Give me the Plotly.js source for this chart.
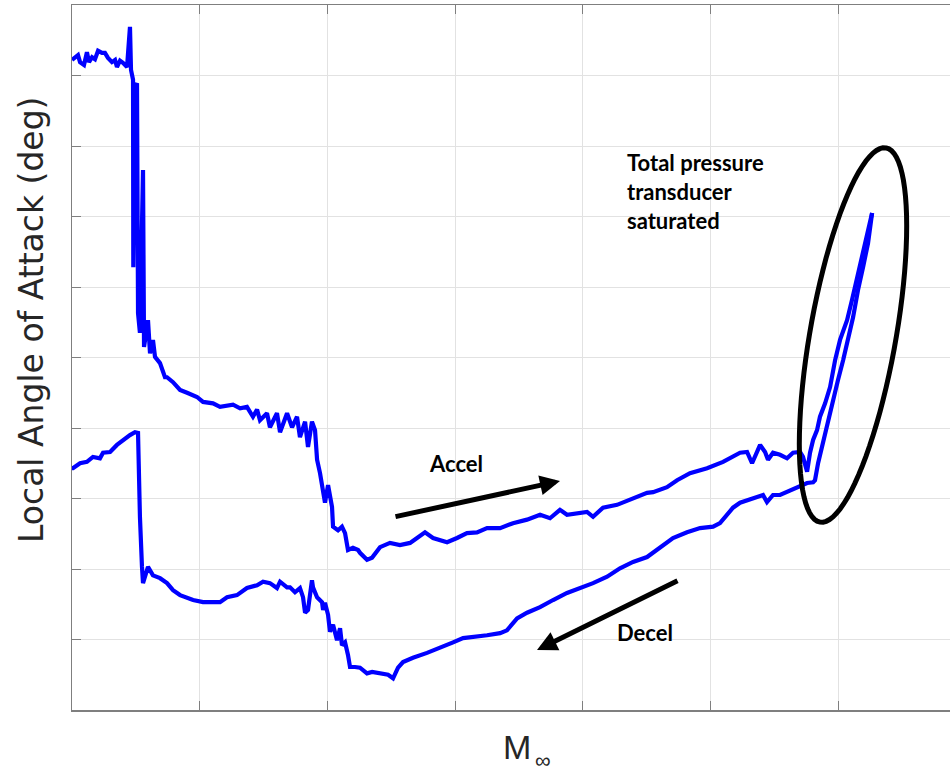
<!DOCTYPE html>
<html>
<head>
<meta charset="utf-8">
<script src="https://cdn.plot.ly/plotly-3.0.1.min.js"></script>
<style>html,body{margin:0;padding:0;background:#fff;}#chart{width:950px;height:776px;}</style>
</head>
<body>
<div id="chart"></div>
<script>
// Accel sweep (upper branch) – free-stream Mach (grid units) vs local AoA (grid units)
const accelMach = [0,0.047,0.063,0.094,0.117,0.133,0.157,0.18,0.204,0.235,
0.258,0.282,0.313,0.337,0.352,0.376,0.399,0.431,0.439,0.454,
0.462,0.478,0.48,0.493,0.509,0.517,0.532,0.556,0.564,0.595,
0.611,0.634,0.65,0.689,0.728,0.744,0.791,0.846,0.901,0.979,
1.026,1.104,1.159,1.261,1.316,1.37,1.417,1.449,1.472,1.527,
1.55,1.605,1.629,1.684,1.723,1.762,1.785,1.825,1.848,1.879,
1.903,1.919,1.942,1.966,1.981,2.005,2.036,2.044,2.083,2.114,
2.138,2.161,2.2,2.24,2.255,2.31,2.349,2.412,2.49,2.568,
2.647,2.702,2.764,2.827,2.937,3.015,3.093,3.171,3.25,3.352,
3.453,3.563,3.665,3.743,3.821,3.876,3.955,4.033,4.08,4.158,
4.268,4.37,4.503,4.55,4.659,4.738,4.839,4.973,5.098,5.231,
5.286,5.325,5.388,5.427,5.45,5.489,5.544,5.599,5.646,5.701,
5.724,5.756,5.779,5.803,5.834,5.857,5.897,5.936,5.975,6.014,
6.069,6.108,6.147,6.186,6.225,6.265];
const accelAoa = [9.22,9.29,9.19,9.15,9.33,9.19,9.26,9.23,9.35,9.32,
9.32,9.25,9.19,9.22,9.12,9.21,9.18,9.12,9.32,9.69,
9.08,8.94,6.28,8.84,8.89,5.63,5.35,7.66,5.15,5.53,
5.06,5.25,5.01,4.92,4.72,4.72,4.65,4.54,4.5,4.44,
4.37,4.35,4.3,4.33,4.28,4.3,4.16,4.26,4.11,4.21,
4.01,4.21,3.94,4.21,4.01,4.16,3.87,4.09,3.73,4.09,
3.97,3.55,3.36,3.12,2.94,3.19,2.88,2.6,2.55,2.6,
2.51,2.27,2.3,2.27,2.23,2.13,2.16,2.31,2.37,2.34,
2.37,2.44,2.52,2.44,2.38,2.44,2.51,2.52,2.58,2.58,
2.65,2.7,2.77,2.72,2.84,2.77,2.79,2.81,2.74,2.87,
2.91,2.98,3.08,3.09,3.16,3.26,3.36,3.43,3.52,3.65,
3.66,3.5,3.76,3.66,3.55,3.65,3.62,3.57,3.65,3.66,
3.59,3.38,3.65,3.83,3.97,4.16,4.35,4.58,4.96,5.25,
5.53,5.82,6.14,6.43,6.77,7.05];

// Decel sweep (lower branch)
const decelMach = [6.265,6.233,6.194,6.155,6.116,6.077,6.038,5.998,5.959,5.92,
5.881,5.842,5.818,5.803,5.756,5.677,5.599,5.544,5.489,5.442,
5.411,5.364,5.309,5.231,5.176,5.129,5.074,5.02,4.918,4.816,
4.706,4.503,4.393,4.291,4.19,4.08,3.978,3.876,3.767,3.665,
3.563,3.485,3.406,3.352,3.25,3.14,3.062,2.984,2.882,2.78,
2.67,2.592,2.553,2.514,2.475,2.412,2.35,2.31,2.255,2.216,
2.177,2.161,2.138,2.114,2.099,2.075,2.044,2.02,2.005,1.981,
1.966,1.958,1.919,1.887,1.879,1.848,1.825,1.809,1.785,1.746,
1.707,1.684,1.629,1.605,1.55,1.496,1.449,1.37,1.292,1.214,
1.159,1.104,1.026,0.948,0.901,0.846,0.791,0.744,0.689,0.634,
0.595,0.572,0.556,0.548,0.532,0.517,0.493,0.454,0.399,0.352,
0.298,0.243,0.219,0.164,0.117,0.063,0.008,0];
const decelAoa = [7.05,6.62,6.28,5.96,5.57,5.25,4.96,4.68,4.4,4.11,
3.83,3.5,3.26,3.23,3.22,3.16,3.09,3.05,3.05,2.95,
3.05,3.02,2.98,2.94,2.87,2.77,2.65,2.6,2.58,2.52,
2.44,2.17,2.1,2.01,1.89,1.8,1.73,1.66,1.56,1.46,
1.38,1.3,1.13,1.09,1.06,1.04,1.02,0.96,0.88,0.81,
0.74,0.68,0.6,0.45,0.5,0.52,0.54,0.52,0.6,0.61,
0.61,0.78,0.96,0.92,1.16,0.99,1.21,1.11,1.35,1.52,
1.42,1.53,1.6,1.74,1.84,1.42,1.38,1.6,1.73,1.67,
1.74,1.74,1.82,1.73,1.8,1.82,1.77,1.73,1.63,1.6,
1.53,1.53,1.53,1.56,1.59,1.63,1.7,1.8,1.87,1.91,
2.03,1.91,1.8,2.03,2.74,3.93,3.94,3.9,3.83,3.76,
3.66,3.65,3.57,3.59,3.52,3.5,3.43,3.43];

const xTitle = 'M';
const xTitleSub = '\u221E';
const yTitle = 'Local Angle of Attack (deg)';
const noteLines = ['Total pressure', 'transducer', 'saturated'];
const accelLabel = 'Accel';
const decelLabel = 'Decel';

// ----- layout geometry -----
const W = 950, H = 776;
const M = {l: 72, r: 0, t: 5, b: 66};
const plotW = W - M.l - M.r, plotH = H - M.t - M.b;
const xMax = 6.875, yMax = 10;
// pixel -> paper
const ppx = p => (p - M.l) / plotW;
const ppy = p => (H - M.b - p) / plotH;

const lineStyle = {color: '#0000ff', width: 4.2};
const traces = [
  {x: accelMach, y: accelAoa, type: 'scatter', mode: 'lines', line: lineStyle, hoverinfo: 'skip', name: 'Accel'},
  {x: decelMach, y: decelAoa, type: 'scatter', mode: 'lines', line: lineStyle, hoverinfo: 'skip', name: 'Decel'}
];

// ellipse around saturated region (pixel geometry -> paper path)
function ellipsePath(cx, cy, a, b, ux, uy) {
  const vx = -uy, vy = ux;
  let d = '';
  const n = 90;
  for (let i = 0; i <= n; i++) {
    const t = 2 * Math.PI * i / n;
    const X = cx + a * Math.cos(t) * ux + b * Math.sin(t) * vx;
    const Y = cy + a * Math.cos(t) * uy + b * Math.sin(t) * vy;
    d += (i === 0 ? 'M' : 'L') + ppx(X).toFixed(5) + ',' + ppy(Y).toFixed(5);
  }
  return d + 'Z';
}

const axisCommon = {
  showticklabels: false, ticks: 'inside', ticklen: 9, tickwidth: 1, tickcolor: '#7f7f7f',
  showline: true, linecolor: '#7f7f7f', linewidth: 1.5,
  showgrid: true, gridcolor: '#e2e2e2', gridwidth: 1, zeroline: false,
  tick0: 0, dtick: 1, fixedrange: true
};

const annFont = {family: 'Lato, "Liberation Sans", sans-serif', size: 22, color: '#000', weight: 700};

const annotations = [
  {xref: 'paper', yref: 'paper', x: ppx(31), y: ppy(320), text: yTitle, textangle: -90, showarrow: false,
   xanchor: 'center', yanchor: 'middle', font: {family: '"DejaVu Sans", sans-serif', size: 33, color: '#262626'}},
  {xref: 'paper', yref: 'paper', x: ppx(517), y: ppy(747), text: xTitle, showarrow: false,
   xanchor: 'center', yanchor: 'middle', font: {family: '"Liberation Sans", Arial, sans-serif', size: 34, color: '#262626'}},
  {xref: 'paper', yref: 'paper', x: ppx(543), y: ppy(775), text: xTitleSub, showarrow: false,
   xanchor: 'center', yanchor: 'bottom', font: {family: '"Liberation Sans", Arial, sans-serif', size: 22, color: '#262626'}},
  {xref: 'paper', yref: 'paper', x: ppx(625), y: ppy(162), text: noteLines[0], showarrow: false, xanchor: 'left', yanchor: 'middle', font: annFont},
  {xref: 'paper', yref: 'paper', x: ppx(625), y: ppy(191), text: noteLines[1], showarrow: false, xanchor: 'left', yanchor: 'middle', font: annFont},
  {xref: 'paper', yref: 'paper', x: ppx(625), y: ppy(220), text: noteLines[2], showarrow: false, xanchor: 'left', yanchor: 'middle', font: annFont},
  {xref: 'paper', yref: 'paper', x: ppx(456), y: ppy(463), text: accelLabel, showarrow: false, xanchor: 'center', yanchor: 'middle', font: annFont},
  {xref: 'paper', yref: 'paper', x: ppx(645), y: ppy(632), text: decelLabel, showarrow: false, xanchor: 'center', yanchor: 'middle', font: annFont},
  // arrows
  {xref: 'paper', yref: 'paper', x: ppx(560), y: ppy(481), ax: 394 - 560, ay: 517 - 481, text: '', showarrow: true,
   arrowhead: 2, arrowsize: 0.8, arrowwidth: 5, arrowcolor: '#000'},
  {xref: 'paper', yref: 'paper', x: ppx(537), y: ppy(650), ax: 679 - 537, ay: 580 - 650, text: '', showarrow: true,
   arrowhead: 2, arrowsize: 0.8, arrowwidth: 5, arrowcolor: '#000'}
];

const layout = {
  width: W, height: H,
  margin: {l: M.l, r: M.r, t: M.t, b: M.b, pad: 0},
  paper_bgcolor: '#ffffff', plot_bgcolor: '#ffffff',
  showlegend: false,
  xaxis: Object.assign({}, axisCommon, {range: [0, xMax], mirror: 'ticks'}),
  yaxis: Object.assign({}, axisCommon, {range: [0, yMax], mirror: false}),
  annotations: annotations,
  shapes: [
    {type: 'path', xref: 'paper', yref: 'paper', path: ellipsePath(853, 335, 190, 43, 0.1737, -0.9848),
     line: {color: '#000', width: 5}, fillcolor: 'rgba(0,0,0,0)'}
  ]
};

Plotly.newPlot('chart', traces, layout, {displayModeBar: false, staticPlot: true});
</script>
</body>
</html>
